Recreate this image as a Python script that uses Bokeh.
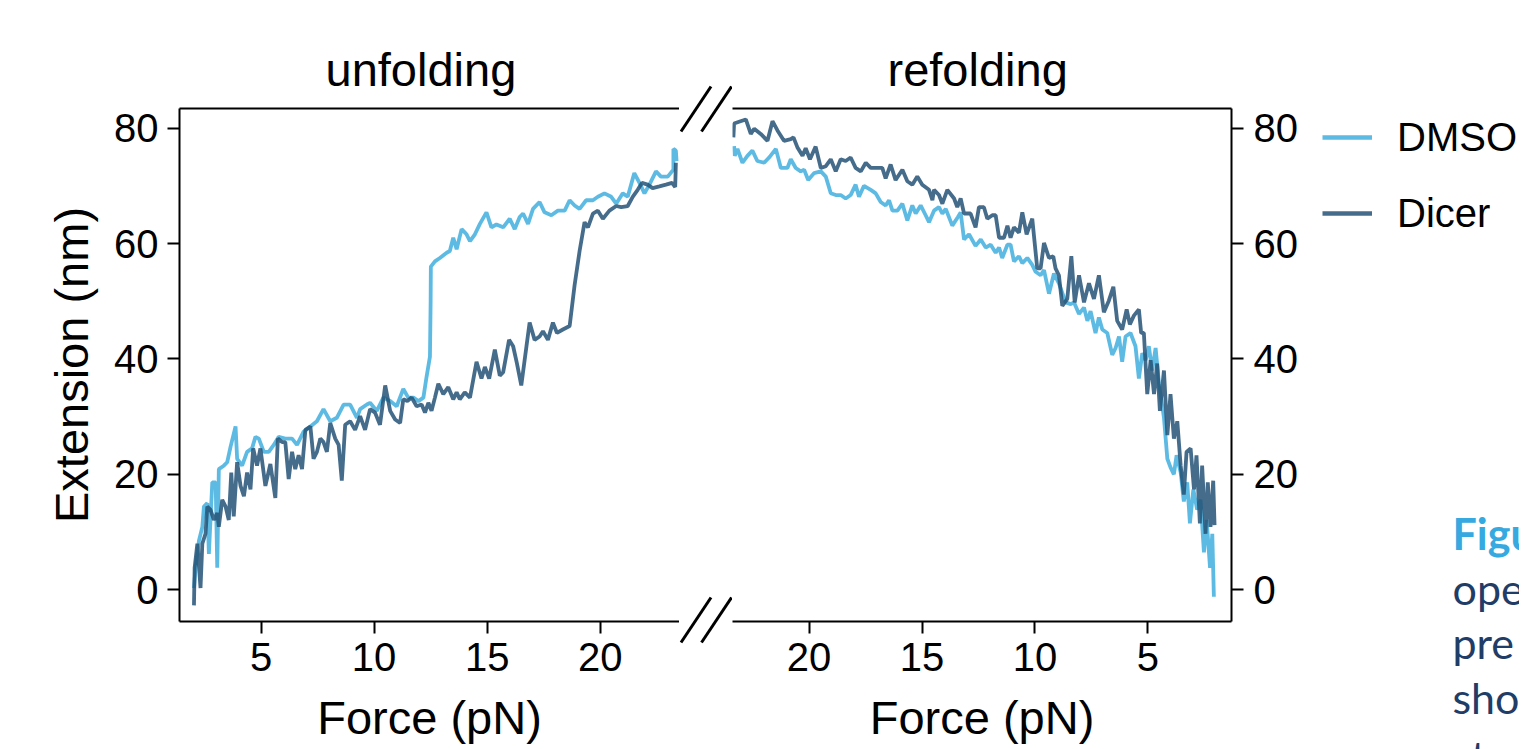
from bokeh.plotting import figure
from bokeh.models import Range1d, LinearAxis, FixedTicker, Legend, LegendItem, Label
from bokeh.layouts import row, column
from bokeh.embed import file_html
from bokeh.resources import INLINE

# ---------------- data ----------------
panel_titles = ["unfolding", "refolding"]
series_names = ["DMSO", "Dicer"]
force_ticks = [5, 10, 15, 20]
ext_ticks = [0, 20, 40, 60, 80]
x_label = "Force (pN)"
y_label = "Extension (nm)"
caption_lines = ["Figu", "ope", "pre", "sho", "stru"]

unfold_dmso_force = [2.03, 2.10, 2.25, 2.40, 2.47, 2.62, 2.69, 2.84, 2.99, 3.06, 3.13, 3.35, 3.50, 3.65, 3.87, 3.94,
                     4.16, 4.38, 4.60, 4.75, 4.90, 5.12, 5.34, 5.56, 5.78, 6.07, 6.37, 6.59, 6.88, 7.18, 7.47, 7.76,
                     8.06, 8.35, 8.65, 8.94, 9.24, 9.38, 9.68, 9.82, 10.12, 10.41, 10.71, 11.00, 11.29, 11.51, 11.74,
                     11.96, 12.18, 12.32, 12.47, 12.50, 12.51, 12.69, 12.91, 13.21, 13.35, 13.50, 13.65, 13.87, 14.09,
                     14.24, 14.46, 14.68, 14.97, 15.19, 15.41, 15.71, 16.00, 16.22, 16.44, 16.59, 16.81, 17.03, 17.32,
                     17.54, 17.84, 18.13, 18.43, 18.65, 18.87, 19.09, 19.38, 19.68, 19.90, 20.19, 20.49, 20.71, 21.00,
                     21.22, 21.51, 21.74, 21.96, 22.18, 22.47, 22.69, 22.99, 23.24, 23.24, 23.35, 23.38]
unfold_dmso_ext = [0.3, 3.8, 8.5, 10.9, 14.4, 15.0, 6.2, 18.6, 18.6, 3.8, 20.9, 21.5, 22.1, 24.8, 28.3, 22.7,
                   21.5, 23.9, 24.5, 26.5, 26.2, 23.9, 23.9, 25.1, 26.5, 26.2, 26.2, 25.1, 27.4, 28.3, 29.2, 31.3,
                   29.2, 29.8, 32.1, 32.1, 29.8, 31.3, 32.1, 32.4, 31.0, 33.3, 32.7, 31.8, 34.8, 33.3, 33.3,
                   32.7, 33.3, 36.9, 40.4, 49.8, 56.0, 56.9, 57.5, 58.4, 58.7, 61.0, 59.0, 62.5, 61.6,
                   60.4, 61.6, 63.4, 65.4, 62.8, 63.3, 62.8, 64.3, 62.5, 64.6, 65.2, 63.4, 66.0, 67.2,
                   65.4, 64.9, 65.7, 65.7, 67.5, 66.6, 66.0, 67.5, 67.5, 68.1, 68.7, 68.1, 66.9, 68.7,
                   68.1, 72.2, 70.5, 68.7, 70.2, 72.5, 71.6, 71.6, 72.8, 76.4, 76.1, 74.3]

unfold_dicer_force = [2.03, 2.06, 2.18, 2.32, 2.40, 2.54, 2.62, 2.76, 2.91, 3.06, 3.13, 3.28, 3.43, 3.57, 3.68, 3.79,
                      3.94, 4.09, 4.24, 4.38, 4.53, 4.65, 4.82, 4.97, 5.19, 5.41, 5.63, 5.74, 5.93, 6.07, 6.22,
                      6.37, 6.51, 6.66, 6.81, 6.96, 7.18, 7.32, 7.47, 7.62, 7.76, 7.91, 8.06, 8.28, 8.43, 8.57,
                      8.72, 8.94, 9.16, 9.38, 9.60, 9.82, 10.04, 10.26, 10.49, 10.71, 10.93, 11.15, 11.29, 11.47,
                      11.66, 11.88, 12.10, 12.25, 12.40, 12.54, 12.69, 12.84, 13.06, 13.28, 13.50, 13.65, 13.79,
                      14.01, 14.24, 14.53, 14.75, 14.90, 15.09, 15.34, 15.56, 15.71, 15.97, 16.15, 16.32, 16.51,
                      16.74, 16.88, 17.10, 17.32, 17.47, 17.69, 17.91, 18.09, 18.35, 18.65, 18.87, 19.09, 19.31,
                      19.46, 19.68, 19.90, 20.12, 20.41, 20.71, 20.93, 21.22, 21.44, 21.66, 21.85, 22.10, 22.32,
                      22.62, 22.91, 23.18, 23.32, 23.35]
unfold_dicer_ext = [-2.7, 3.8, 8.0, 0.3, 8.0, 9.7, 14.4, 13.9, 12.1, 13.3, 10.9, 15.6, 14.4, 12.1, 20.3, 12.7,
                    22.1, 18.0, 16.2, 20.3, 17.4, 24.5, 21.5, 24.5, 18.0, 21.8, 15.9, 26.2, 25.6, 25.6, 19.2,
                    23.9, 20.9, 23.3, 20.9, 27.7, 28.3, 22.7, 23.9, 26.2, 25.6, 23.9, 28.9, 26.2, 25.1, 18.9,
                    28.6, 29.2, 27.7, 30.1, 27.7, 31.3, 30.7, 28.6, 35.4, 31.0, 29.5, 28.9, 33.0, 32.7,
                    33.3, 31.8, 32.1, 30.7, 32.4, 31.0, 33.3, 35.7, 33.9, 35.1, 33.0, 34.2, 33.0,
                    34.2, 33.3, 39.5, 36.6, 38.6, 36.6, 41.6, 37.1, 37.7, 43.3, 42.2, 39.2, 35.4,
                    42.2, 46.3, 43.3, 43.9, 44.8, 43.3, 46.3, 44.5, 45.1, 45.7, 52.8, 58.7, 63.7,
                    62.8, 65.2, 65.7, 64.3, 65.7, 66.5, 66.3, 66.5, 68.1, 69.3, 70.5, 70.2, 69.6,
                    69.9, 70.2, 70.5, 69.8, 74.0]

refold_dmso_force = [23.32, 23.29, 23.17, 22.95, 22.73, 22.51, 22.29, 21.99, 21.77, 21.47, 21.25, 20.96, 20.81,
                     20.59, 20.37, 20.22, 20.04, 19.78, 19.48, 19.26, 19.04, 18.82, 18.60, 18.38, 18.16, 17.94,
                     17.79, 17.57, 17.27, 17.05, 16.83, 16.61, 16.46, 16.31, 16.09, 15.87, 15.65, 15.43, 15.28,
                     15.06, 14.84, 14.69, 14.47, 14.25, 14.10, 13.95, 13.66, 13.41, 13.29, 13.14, 12.92, 12.63,
                     12.40, 12.18, 11.96, 11.74, 11.59, 11.45, 11.22, 11.08, 10.93, 10.71, 10.56, 10.34, 10.12,
                     9.97, 9.75, 9.60, 9.38, 9.16, 8.94, 8.64, 8.42, 8.27, 8.05, 7.83, 7.68, 7.54, 7.32, 7.17,
                     7.02, 6.80, 6.58, 6.43, 6.28, 6.14, 5.99, 5.77, 5.55, 5.40, 5.25, 5.10, 4.96, 4.81, 4.66,
                     4.51, 4.29, 4.14, 4.00, 3.85, 3.73, 3.55, 3.41, 3.26, 3.14, 2.99, 2.82, 2.67, 2.52, 2.40,
                     2.25, 2.15, 2.08]
refold_dmso_ext = [76.9, 75.2, 76.4, 74.0, 75.2, 76.1, 74.3, 74.0, 74.9, 76.4, 73.1, 73.1, 74.6,
                   73.1, 72.5, 72.8, 71.0, 72.2, 72.5, 71.6, 68.7, 68.4, 68.4, 67.8, 68.4, 70.2,
                   68.1, 70.0, 69.3, 68.7, 67.2, 66.6, 67.5, 65.7, 65.7, 66.9, 64.0, 66.6, 65.2,
                   66.6, 64.9, 63.7, 65.7, 66.3, 65.2, 66.0, 63.1, 64.6, 65.4, 60.7, 61.6, 59.6,
                   60.7, 59.3, 59.8, 58.4, 59.3, 57.5, 59.8, 59.8, 56.9, 57.8, 56.6, 57.5, 56.3,
                   55.1, 54.5, 55.4, 51.3, 54.8, 53.1, 49.8, 49.5, 49.8, 47.8, 48.9, 46.6, 48.3, 44.5, 47.2,
                   45.1, 44.5, 40.7, 41.9, 43.9, 39.5, 43.9, 44.5, 42.2, 36.6, 41.0, 39.8, 42.2, 38.0, 41.9,
                   35.7, 29.8, 22.7, 21.2, 20.0, 23.3, 20.3, 15.3, 18.6, 11.5, 17.4, 13.9, 15.6, 6.5, 12.1,
                   3.8, 9.7, -1.2]

refold_dicer_force = [23.35, 23.32, 23.10, 22.80, 22.58, 22.43, 22.14, 21.84, 21.62, 21.40, 21.11, 20.81, 20.69,
                      20.52, 20.29, 20.15, 19.96, 19.71, 19.48, 19.26, 19.04, 18.82, 18.60, 18.38, 18.16, 17.94,
                      17.71, 17.49, 17.27, 16.98, 16.76, 16.61, 16.39, 16.17, 15.87, 15.65, 15.43, 15.21, 14.99,
                      14.69, 14.54, 14.47, 14.25, 14.10, 13.88, 13.58, 13.44, 13.29, 13.14, 12.85, 12.63, 12.48,
                      12.26, 12.11, 11.89, 11.74, 11.59, 11.37, 11.22, 11.08, 10.93, 10.71, 10.56, 10.37, 10.12,
                      9.90, 9.75, 9.60, 9.38, 9.19, 9.09, 8.94, 8.79, 8.57, 8.39, 8.24, 8.05, 7.83, 7.61, 7.39,
                      7.17, 6.95, 6.73, 6.53, 6.36, 6.14, 5.94, 5.80, 5.62, 5.40, 5.30, 5.18, 5.03, 4.88, 4.73,
                      4.59, 4.47, 4.29, 4.14, 4.00, 3.85, 3.70, 3.55, 3.41, 3.29, 3.11, 2.96, 2.85, 2.70, 2.60,
                      2.45, 2.35, 2.23, 2.11, 2.05]
refold_dicer_ext = [78.4, 80.8, 81.1, 81.5, 79.0, 79.9, 79.0, 77.8, 81.2, 79.6, 77.8, 78.1, 78.4,
                    76.7, 75.2, 76.5, 74.6, 76.8, 73.1, 73.4, 74.6, 72.5, 74.6, 74.3, 74.9, 73.1,
                    72.5, 74.0, 73.1, 73.1, 73.1, 71.3, 73.7, 71.0, 72.8, 70.8, 70.2, 71.6, 70.2,
                    69.3, 67.5, 69.3, 68.4, 66.9, 69.3, 67.8, 66.3, 67.8, 65.2, 65.2, 62.8, 66.3,
                    66.3, 64.3, 64.9, 64.9, 61.0, 61.0, 63.1, 61.0, 62.8, 61.9, 65.4, 61.6, 64.3,
                    55.7, 55.7, 60.1, 57.5, 57.8, 55.7, 54.5, 49.2, 50.4, 57.8, 49.8, 54.5, 49.8, 53.1, 50.4,
                    54.5, 48.1, 50.1, 52.5, 46.6, 45.1, 48.6, 46.0, 47.5, 48.6, 44.5, 44.5, 33.9, 39.8, 33.9,
                    39.2, 31.0, 38.0, 26.8, 33.9, 26.2, 29.2, 21.5, 16.5, 23.9, 24.5, 17.4, 23.3, 11.5, 21.5,
                    9.7, 18.6, 10.9, 18.9, 11.2]

# ---------------- style / layout ----------------
FONT = "Liberation Sans"
DMSO_COLOR = "#4bb2e0"
DICER_COLOR = "#255277"
LINE_W = 3.8
Y_RANGE = (-5.5, 83.4)
UNFOLD_X = (1.39, 23.51)
REFOLD_X = (23.39, 1.30)

TOP, BOTTOM = 108, 128
FRAME_H = 513
H = TOP + FRAME_H + BOTTOM
LEFT_BORDER = 179
LEFT_FRAME_W = 500
GAP_W = 53
RIGHT_FRAME_W = 499
RIGHT_AXIS_W = 70
SIDE_W = 218


def style_axis(ax, ticks, label=None, label_standoff=8, title_standoff=10):
    ax.ticker = FixedTicker(ticks=ticks)
    ax.axis_line_width = 2
    ax.axis_line_color = "black"
    ax.major_tick_line_width = 2
    ax.major_tick_line_color = "black"
    ax.major_tick_out = 12
    ax.major_tick_in = 0
    ax.minor_tick_line_color = None
    ax.major_label_text_font = FONT
    ax.major_label_text_font_size = "40px"
    ax.major_label_text_color = "black"
    ax.major_label_standoff = label_standoff
    if label is not None:
        ax.axis_label = label
        ax.axis_label_text_font = FONT
        ax.axis_label_text_font_size = "47px"
        ax.axis_label_text_font_style = "normal"
        ax.axis_label_text_color = "black"
        ax.axis_label_standoff = title_standoff


def top_line(p):
    ax = LinearAxis(ticker=FixedTicker(ticks=[]), axis_line_width=2, axis_line_color="black",
                    major_tick_line_color=None, minor_tick_line_color=None,
                    major_label_text_font_size="0px")
    p.add_layout(ax, "above")


def style_title(p, text, offset):
    p.title.text = text
    p.title.text_font = FONT
    p.title.text_font_size = "47px"
    p.title.text_font_style = "normal"
    p.title.text_color = "black"
    p.title.align = "left"
    p.title.offset = offset
    p.title.standoff = 26


common = dict(height=H, output_backend="svg", toolbar_location=None,
              min_border_top=TOP, min_border_bottom=BOTTOM,
              outline_line_color=None, background_fill_color="white", border_fill_color="white")

# ---- left panel: unfolding ----
pl = figure(width=LEFT_BORDER + LEFT_FRAME_W, x_range=Range1d(*UNFOLD_X), y_range=Range1d(*Y_RANGE),
            min_border_left=LEFT_BORDER, min_border_right=0, **common)
pl.grid.visible = False
style_title(pl, panel_titles[0], 146)
style_axis(pl.xaxis[0], force_ticks, x_label, label_standoff=9, title_standoff=17)
style_axis(pl.yaxis[0], ext_ticks, y_label, label_standoff=9, title_standoff=13)
top_line(pl)
pl.line(unfold_dmso_force, unfold_dmso_ext, line_color=DMSO_COLOR, line_width=LINE_W, line_alpha=0.9)
pl.line(unfold_dicer_force, unfold_dicer_ext, line_color=DICER_COLOR, line_width=LINE_W, line_alpha=0.85)

# ---- right panel: refolding ----
pr = figure(width=RIGHT_FRAME_W + RIGHT_AXIS_W, x_range=Range1d(*REFOLD_X), y_range=Range1d(*Y_RANGE),
            y_axis_location="right", min_border_left=0, min_border_right=RIGHT_AXIS_W, **common)
pr.grid.visible = False
style_title(pr, panel_titles[1], 155)
style_axis(pr.xaxis[0], force_ticks, x_label, label_standoff=9, title_standoff=17)
style_axis(pr.yaxis[0], ext_ticks, None, label_standoff=10)
top_line(pr)
pr.line(refold_dmso_force, refold_dmso_ext, line_color=DMSO_COLOR, line_width=LINE_W, line_alpha=0.9)
pr.line(refold_dicer_force, refold_dicer_ext, line_color=DICER_COLOR, line_width=LINE_W, line_alpha=0.85)

# ---- middle gap with axis-break marks (same vertical scale as the panels) ----
y_per_px = (Y_RANGE[1] - Y_RANGE[0]) / FRAME_H
mid_y = (Y_RANGE[0] - BOTTOM * y_per_px, Y_RANGE[1] + TOP * y_per_px)
pm = figure(width=GAP_W, height=H, x_range=Range1d(0, GAP_W), y_range=Range1d(*mid_y),
            x_axis_type=None, y_axis_type=None, output_backend="svg", toolbar_location=None, title=None,
            min_border=0, outline_line_color=None, background_fill_color="white", border_fill_color="white")
pm.grid.visible = False
slash_x0 = [1.5, 22.0]
slash_x1 = [31.5, 52.0]
pm.segment(x0=slash_x0, y0=[Y_RANGE[1] - 23 * y_per_px] * 2, x1=slash_x1, y1=[Y_RANGE[1] + 22 * y_per_px] * 2,
           line_color="black", line_width=3)
pm.segment(x0=slash_x0, y0=[Y_RANGE[0] - 21 * y_per_px] * 2, x1=slash_x1, y1=[Y_RANGE[0] + 24 * y_per_px] * 2,
           line_color="black", line_width=3)

# ---- side area: legend + fragment of the neighbouring caption ----
ps = figure(width=SIDE_W, height=H, x_range=Range1d(0, SIDE_W), y_range=Range1d(H, 0),
            x_axis_type=None, y_axis_type=None, output_backend="svg", toolbar_location=None, title=None,
            min_border=0, outline_line_color=None, background_fill_color="white", border_fill_color="white")
ps.grid.visible = False
nan = float("nan")
leg_dmso = ps.line([nan, nan], [nan, nan], line_color=DMSO_COLOR, line_width=4.5, line_alpha=0.9)
leg_dicer = ps.line([nan, nan], [nan, nan], line_color=DICER_COLOR, line_width=4.5, line_alpha=0.85)
legend = Legend(items=[LegendItem(label=series_names[0], renderers=[leg_dmso]),
                       LegendItem(label=series_names[1], renderers=[leg_dicer])],
                location=(21, H - 114 - 122), orientation="vertical",
                label_text_font=FONT, label_text_font_size="40px", label_text_color="black",
                glyph_width=50, glyph_height=46, label_standoff=25, spacing=30,
                padding=0, margin=0, border_line_color=None, background_fill_alpha=0)
ps.add_layout(legend)

cap_baselines = [533, 588, 642, 697, 755]
for i, (txt, b) in enumerate(zip(caption_lines, cap_baselines)):
    ps.add_layout(Label(x=151, y=b, text=txt, text_font="Lato", text_font_size="43px",
                        text_font_style="bold" if i == 0 else "normal",
                        text_color="#36a9e1" if i == 0 else "#1f3d66",
                        text_baseline="alphabetic", text_align="left"))

layout = row(pl, column(pm), pr, column(ps), spacing=0)
open("out.html", "w").write(file_html(layout, INLINE))
